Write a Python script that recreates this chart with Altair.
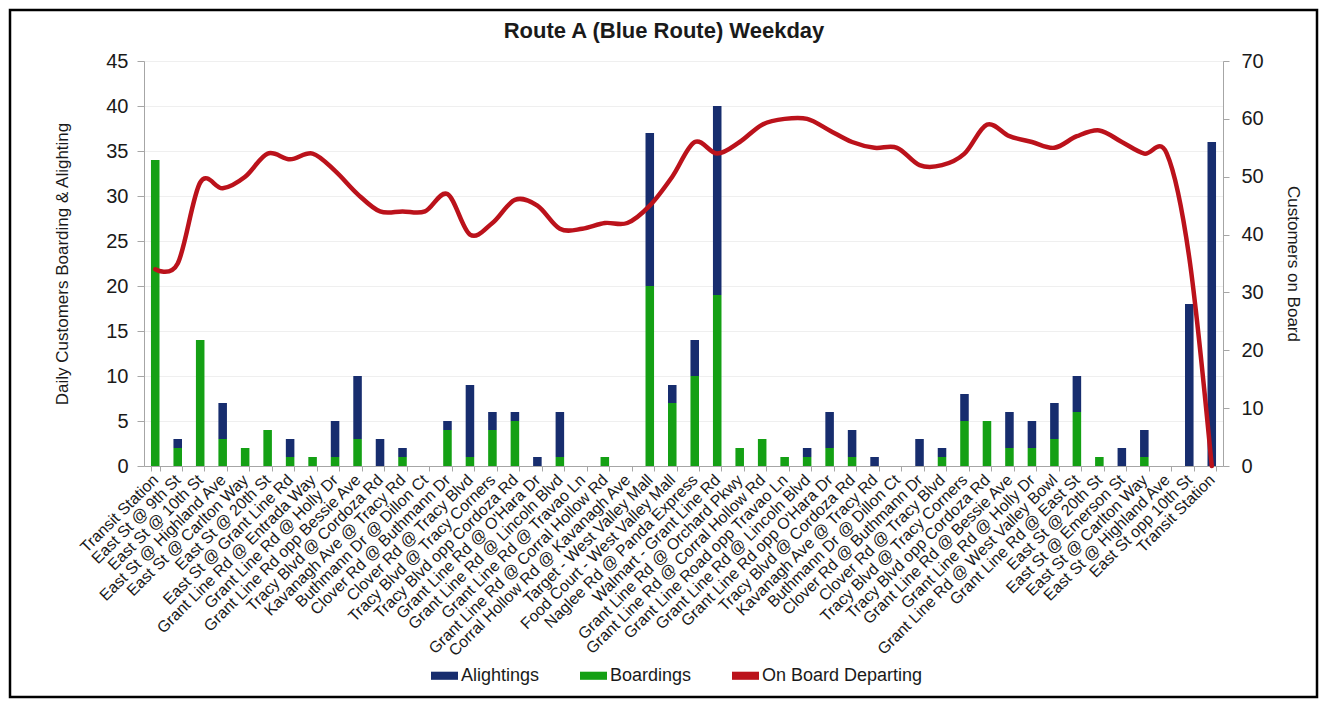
import json
import altair as alt
import pandas as pd

stops = [
    "Transit Station", "East St @ 9th St", "East St @ 10th St", "East St @ Highland Ave",
    "East St @ Carlton Way", "East St @ 20th St", "East St @ Grant Line Rd",
    "Grant Line Rd @ Entrada Way", "Grant Line Rd @ Holly Dr", "Grant Line Rd opp Bessie Ave",
    "Tracy Blvd @ Cordoza Rd", "Kavanagh Ave @ Tracy Rd", "Buthmann Dr @ Dillon Ct",
    "Clover Rd @ Buthmann Dr", "Clover Rd @ Tracy Blvd", "Tracy Blvd @ Tracy Corners",
    "Tracy Blvd opp Cordoza Rd", "Grant Line Rd @ O'Hara Dr", "Grant Line Rd @ Lincoln Blvd",
    "Grant Line Rd @ Travao Ln", "Grant Line Rd @ Corral Hollow Rd", "Corral Hollow Rd @ Kavanagh Ave",
    "Target - West Valley Mall", "Food Court - West Valley Mall", "Naglee Rd @ Panda Express",
    "Walmart - Grant Line Rd", "Grant Line Rd @ Orchard Pkwy", "Grant Line Rd @ Corral Hollow Rd",
    "Grant Line Road opp Travao Ln", "Grant Line Rd @ Lincoln Blvd", "Grant Line Rd opp O'Hara Dr",
    "Tracy Blvd @ Cordoza Rd", "Kavanagh Ave @ Tracy Rd", "Buthmann Dr @ Dillon Ct",
    "Clover Rd @ Buthmann Dr", "Clover Rd @ Tracy Blvd", "Tracy Blvd @ Tracy Corners",
    "Tracy Blvd opp Cordoza Rd", "Grant Line Rd @ Bessie Ave", "Grant Line Rd @ Holly Dr",
    "Grant Line Rd @ West Valley Bowl", "Grant Line Rd @ East St", "East St @ 20th St",
    "East St @ Emerson St", "East St @ Carlton Way", "East St @ Highland Ave",
    "East St opp 10th St", "Transit Station",
]

boardings = [34, 2, 14, 3, 2, 4, 1, 1, 1, 3, 0, 1, 0, 4, 1, 4, 5, 0, 1, 0, 1, 0,
             20, 7, 10, 19, 2, 3, 1, 1, 2, 1, 0, 0, 0, 1, 5, 5, 2, 2, 3, 6, 1, 0, 1, 0, 0, 0]
alightings = [0, 1, 0, 4, 0, 0, 2, 0, 4, 7, 3, 1, 0, 1, 8, 2, 1, 1, 5, 0, 0, 0,
              17, 2, 4, 21, 0, 0, 0, 1, 4, 3, 1, 0, 3, 1, 3, 0, 4, 3, 4, 4, 0, 2, 3, 0, 18, 36]
on_board = [34, 35, 49, 48, 50, 54, 53, 54, 51, 47, 44, 44, 44, 47, 40, 42, 46, 45, 41, 41, 42, 42,
            45, 50, 56, 54, 56, 59, 60, 60, 58, 56, 55, 55, 52, 52, 54, 59, 57, 56, 55, 57, 58, 56,
            54, 54, 36, 0]

series_names = ["Alightings", "Boardings", "On Board Departing"]
series_colors = ["#172d6e", "#14a014", "#bb121b"]

rows = []
for i in range(len(stops)):
    if boardings[i] > 0:
        rows.append({"idx": i, "type": "Boardings", "value": boardings[i], "ord": 0})
    if alightings[i] > 0:
        rows.append({"idx": i, "type": "Alightings", "value": alightings[i], "ord": 1})
bars_df = pd.DataFrame(rows)
line_df = pd.DataFrame({"idx": list(range(len(stops))), "onboard": on_board})
one_df = pd.DataFrame({"a": [0]})

FONT = "Liberation Sans"
W, H = 1079, 405
GREY = "#a6a6a6"
TXT = "#1a1a1a"

label_expr = json.dumps(stops) + "[datum.value]"

x_enc = alt.X(
    "idx:O",
    scale=alt.Scale(paddingInner=0.62, paddingOuter=0.31),
    axis=alt.Axis(
        title=None, labelExpr=label_expr, labelAngle=-45, labelAlign="right",
        labelBaseline="middle", labelFontSize=16, labelFont=FONT,
        labelColor=TXT, tickBand="extent", tickSize=5, tickColor=GREY, domainColor=GREY,
        labelPadding=6, grid=False, labelOverlap=False, labelLimit=0,
    ),
)

bars = alt.Chart(bars_df).mark_bar().encode(
    x=x_enc,
    y=alt.Y(
        "value:Q", stack="zero",
        scale=alt.Scale(domain=[0, 45], nice=False),
        axis=alt.Axis(
            orient="left", title="Daily Customers Boarding & Alighting",
            values=list(range(0, 46, 5)), labelFontSize=20, labelFont=FONT, labelColor=TXT,
            tickSize=7, tickColor=GREY, domainColor=GREY, labelPadding=9,
            titleFont=FONT, titleFontSize=17, titleFontWeight="normal", titleColor=TXT,
            titlePadding=34, grid=True, gridColor="#efefef",
        ),
    ),
    color=alt.Color(
        "type:N",
        scale=alt.Scale(domain=series_names, range=series_colors),
        legend=alt.Legend(
            title=None, orient="none", legendX=287, legendY=601, direction="horizontal",
            symbolType="M-1,-0.3L1,-0.3L1,0.3L-1,0.3Z", symbolSize=729, symbolStrokeWidth=0,
            symbolOpacity=1, labelFontSize=18, labelFont=FONT, labelColor=TXT,
            columnPadding=40, labelOffset=3, padding=0, labelLimit=0,
        ),
    ),
    order=alt.Order("ord:Q", sort="ascending"),
)

line = alt.Chart(line_df).mark_line(
    interpolate="cardinal", color=series_colors[2], strokeWidth=4.5, strokeCap="round"
).encode(
    x=x_enc,
    y=alt.Y(
        "onboard:Q",
        scale=alt.Scale(domain=[0, 70], nice=False),
        axis=alt.Axis(
            orient="right", title="Customers on Board", values=list(range(0, 71, 10)),
            labelFontSize=20, labelFont=FONT, labelColor=TXT, tickSize=6, tickColor=GREY,
            domainColor=GREY, labelPadding=12, titleFont=FONT, titleFontSize=17,
            titleFontWeight="normal", titleColor=TXT, titlePadding=20, grid=False,
        ),
    ),
)

title = alt.Chart(one_df).mark_text(
    text="Route A (Blue Route) Weekday", font=FONT, fontSize=22, fontWeight="bold",
    color=TXT, align="center", baseline="middle",
).encode(x=alt.value(520), y=alt.value(-30))

frame = alt.Chart(one_df).mark_rect(
    fillOpacity=0, stroke="black", strokeWidth=2.5
).encode(
    x=alt.value(-134), x2=alt.value(W + 94), y=alt.value(-51), y2=alt.value(H + 231)
)

chart = (
    alt.layer(bars, line, title, frame)
    .resolve_scale(y="independent")
    .properties(width=W, height=H, padding=0)
    .configure_view(stroke=None)
    .configure(background="white")
)

chart.save("out.html", embed_options={"renderer": "svg", "actions": False})
